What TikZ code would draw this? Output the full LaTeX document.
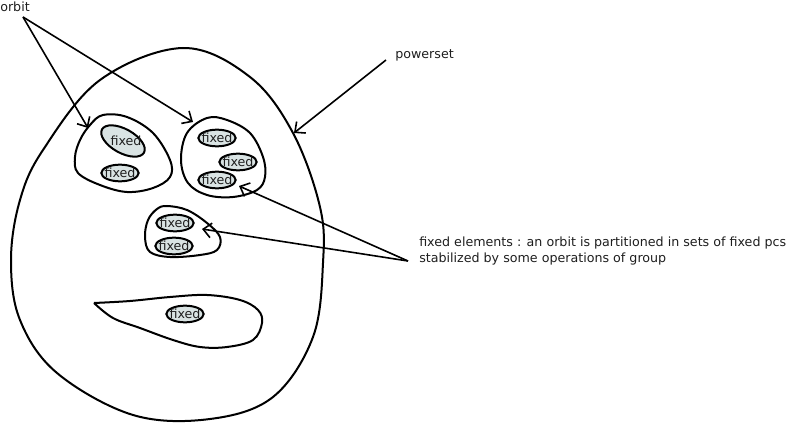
\documentclass[tikz,border=0pt]{standalone}
\usepackage{fontspec}
\setmainfont{DejaVu Sans}
\usetikzlibrary{shapes.geometric, arrows.meta}
\definecolor{fixfill}{RGB}{217,227,227}
\definecolor{inkgray}{RGB}{30,30,30}

\begin{document}
\begin{tikzpicture}[
    x=0.75pt, y=-0.75pt,
    >={Straight Barb[length=6pt,width=11pt]},
    font=\fontsize{9.5}{12.75}\selectfont,
    outline/.style={draw=black, line width=1.5pt, line join=round},
    fixbox/.style={shape=ellipse, draw=black, fill=fixfill, line width=1.5pt, minimum width=28pt, minimum height=12.5pt, inner xsep=-3pt, inner ysep=0pt, text=inkgray},
    fixtilt/.style={draw=black, fill=fixfill, line width=1.5pt},
    notetext/.style={inner sep=0pt, text=inkgray, anchor=base west, align=left},
    arrow/.style={->, line width=1.2pt, black}
  ]
  \useasboundingbox (0,0) rectangle (790,424);

  \draw[outline] plot[smooth cycle, tension=0.6] coordinates {(183,48) (250,77) (293,133) (320,207) (323,263) (313,337) (273,397) (210,419) (133,415) (57,373) (20,320) (11,260) (20,200) (43,150) (100,80)};

  \draw[outline] plot[smooth cycle, tension=0.6] coordinates {(103,115) (127,117) (153,133) (170,160) (170,177) (153,188) (127,192) (100,185) (78,173) (75,157) (80,140) (90,125)};
  \draw[outline] plot[smooth cycle, tension=0.6] coordinates {(207,118) (227,120) (250,133) (263,157) (265,177) (257,190) (233,197) (207,195) (188,183) (181,160) (187,133)};
  \draw[outline] plot[smooth cycle, tension=0.6] coordinates {(167,206) (187,210) (207,223) (220,237) (217,250) (200,255) (170,257) (150,252) (145,237) (148,220) (157,209)};
  \draw[outline] plot[smooth, tension=0.6] coordinates {(94,303) (130,301) (170,297) (207,295) (240,300) (258,310) (262,323) (253,340) (227,347) (200,347) (173,340) (140,328) (113,318) (94,303)};

  \filldraw[fixtilt, rotate around={-29:(123,141)}] (123,141) ellipse [x radius=24, y radius=12];
  \node[inner sep=0pt, text=inkgray] (f1a) at (126,141) {fixed};
  \node[fixbox] (f1b) at (120,173) {fixed};
  \node[fixbox] (f2a) at (217,138) {fixed};
  \node[fixbox] (f2b) at (238,162) {fixed};
  \node[fixbox] (f2c) at (217,180) {fixed};
  \node[fixbox] (f3a) at (175,223) {fixed};
  \node[fixbox] (f3b) at (174,246) {fixed};
  \node[fixbox] (f4a) at (185,314) {fixed};

  \node[notetext] (orblbl) at (0,12) {orbit};
  \node[notetext] (powlbl) at (395,59) {powerset};
  \node[notetext] (fixlbl) at (419,263) {fixed elements : an orbit is partitioned in sets of fixed pcs\\stabilized by some operations of group};

  \coordinate (orbtail) at (23,17);
  \coordinate (orbhd1) at (88,128);
  \coordinate (orbhd2) at (193,122);
  \coordinate (powtail) at (386,60);
  \coordinate (powhd) at (294,133);
  \coordinate (fixtail) at (408,261);
  \coordinate (fixhd1) at (239,186);
  \coordinate (fixhd2) at (202,229);

  \draw[arrow] (orbtail) -- (orbhd1);
  \draw[arrow] (orbtail) -- (orbhd2);
  \draw[arrow] (powtail) -- (powhd);
  \draw[arrow] (fixtail) -- (fixhd1);
  \draw[arrow] (fixtail) -- (fixhd2);
\end{tikzpicture}
\end{document}
